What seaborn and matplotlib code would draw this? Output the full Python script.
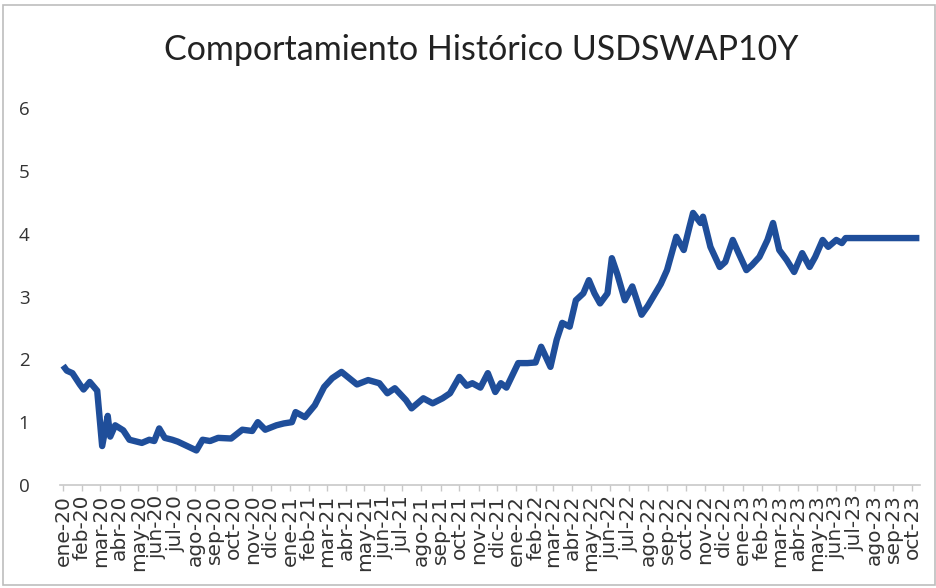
import pandas as pd
import numpy as np
import matplotlib
matplotlib.use("Agg")
import matplotlib.pyplot as plt
import seaborn as sns

# valores (tasa swap 10 años USD)
fechas = [
    "2020-01-01", "2020-01-07", "2020-01-16", "2020-01-28", "2020-02-03", "2020-02-13",
    "2020-02-25", "2020-03-04", "2020-03-13", "2020-03-17", "2020-03-25", "2020-04-07",
    "2020-04-17", "2020-05-07", "2020-05-19", "2020-05-27", "2020-06-04", "2020-06-13",
    "2020-06-25", "2020-07-04", "2020-07-19", "2020-08-03", "2020-08-13", "2020-08-25",
    "2020-09-07", "2020-09-28", "2020-10-16", "2020-11-01", "2020-11-10", "2020-11-22",
    "2020-12-10", "2020-12-22", "2021-01-04", "2021-01-10", "2021-01-25", "2021-02-10",
    "2021-02-25", "2021-03-10", "2021-03-25", "2021-04-04", "2021-04-19", "2021-05-07",
    "2021-05-25", "2021-06-07", "2021-06-19", "2021-07-07", "2021-07-16", "2021-08-04",
    "2021-08-19", "2021-09-04", "2021-09-16", "2021-10-01", "2021-10-13", "2021-10-22",
    "2021-11-04", "2021-11-16", "2021-11-28", "2021-12-07", "2021-12-16", "2022-01-04",
    "2022-01-19", "2022-02-01", "2022-02-10", "2022-02-25", "2022-03-07", "2022-03-16",
    "2022-03-28", "2022-04-07", "2022-04-19", "2022-04-28", "2022-05-07", "2022-05-16",
    "2022-05-28", "2022-06-04", "2022-06-13", "2022-06-25", "2022-07-07", "2022-07-22",
    "2022-08-01", "2022-08-10", "2022-08-22", "2022-09-01", "2022-09-16", "2022-09-28",
    "2022-10-07", "2022-10-13", "2022-10-25", "2022-10-29", "2022-11-10", "2022-11-25",
    "2022-12-04", "2022-12-16", "2022-12-25", "2023-01-07", "2023-01-16", "2023-01-28",
    "2023-02-10", "2023-02-19", "2023-03-01", "2023-03-13", "2023-03-25", "2023-04-07",
    "2023-04-19", "2023-04-28", "2023-05-10", "2023-05-19", "2023-06-01", "2023-06-10",
    "2023-06-16", "2023-07-15", "2023-08-15", "2023-09-15", "2023-10-13",
]
valores = [
    1.90, 1.82, 1.78, 1.60, 1.52, 1.64,
    1.50, 0.62, 1.10, 0.77, 0.95, 0.87,
    0.72, 0.67, 0.72, 0.70, 0.90, 0.75,
    0.72, 0.69, 0.62, 0.55, 0.72, 0.70,
    0.75, 0.74, 0.88, 0.86, 1.00, 0.88,
    0.95, 0.98, 1.00, 1.16, 1.08, 1.27,
    1.56, 1.70, 1.80, 1.72, 1.60, 1.67,
    1.62, 1.46, 1.54, 1.35, 1.22, 1.38,
    1.30, 1.38, 1.46, 1.72, 1.58, 1.62,
    1.55, 1.78, 1.48, 1.62, 1.55, 1.94,
    1.94, 1.95, 2.20, 1.88, 2.31, 2.58,
    2.52, 2.94, 3.05, 3.26, 3.05, 2.89,
    3.05, 3.61, 3.35, 2.94, 3.16, 2.71,
    2.85, 3.00, 3.20, 3.42, 3.95, 3.74,
    4.10, 4.33, 4.17, 4.27, 3.79, 3.47,
    3.55, 3.90, 3.70, 3.42, 3.50, 3.63,
    3.90, 4.17, 3.74, 3.58, 3.39, 3.69,
    3.47, 3.63, 3.90, 3.79, 3.90, 3.85,
    3.93, 3.93, 3.93, 3.93, 3.93,
]

meses = ["ene", "feb", "mar", "abr", "may", "jun", "jul", "ago", "sep", "oct", "nov", "dic"]
marcas = pd.date_range("2020-01-01", "2023-10-01", freq="MS")
etiquetas = [f"{meses[d.month - 1]}-{str(d.year)[2:]}" for d in marcas]

df = pd.DataFrame({"fecha": pd.to_datetime(fechas), "valor": valores})

sns.set_style("white")
plt.rcParams["font.family"] = ["Open Sans", "DejaVu Sans"]

fig = plt.figure(figsize=(9.36, 5.88), dpi=100)
ax = fig.add_axes([60 / 936, 1 - 485 / 588, 860 / 936, 377 / 588])

sns.lineplot(data=df, x="fecha", y="valor", ax=ax, color="#1F4E9A", linewidth=4.6,
             solid_joinstyle="round", solid_capstyle="butt")

ax.set_xlim(pd.Timestamp("2019-12-27"), pd.Timestamp("2023-10-14"))
ax.set_ylim(0, 6)
ax.set_yticks(range(0, 7))
ax.set_xticks(marcas)
ax.set_xticklabels(etiquetas, rotation=90)
for t in ax.get_xticklabels():
    t.set_fontfamily("DejaVu Sans")
    t.set_fontsize(14.5)
    t.set_color("#333333")
ax.set_xlabel("")
ax.set_ylabel("")

for s in ["top", "right", "left"]:
    ax.spines[s].set_visible(False)
ax.spines["bottom"].set_color("#c8c8c8")
ax.spines["bottom"].set_linewidth(1.2)
ax.tick_params(axis="x", length=4, width=1, color="#c8c8c8", pad=3, bottom=True)
ax.tick_params(axis="y", length=0, pad=22, labelsize=13.5, labelcolor="#333333")

fig.text(481 / 936, 1 - 50 / 588, "Comportamiento Histórico USDSWAP10Y",
         ha="center", va="center", fontsize=24.5, family="Lato", color="#222222")

# marco del grafico
borde = plt.Rectangle((3 / 936, 3 / 588), 1 - 4 / 936, 1 - 8 / 588, transform=fig.transFigure,
                      fill=False, edgecolor="#bdbdbd", linewidth=1.2)
fig.patches.append(borde)

fig.savefig("out.png", dpi=100)
